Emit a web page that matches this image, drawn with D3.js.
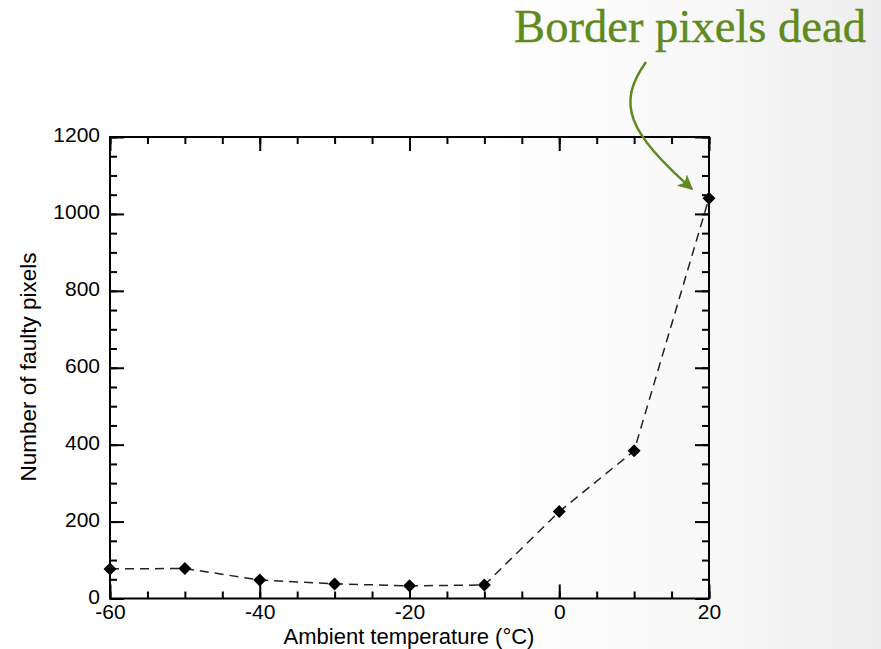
<!DOCTYPE html>
<html>
<head>
<meta charset="utf-8">
<script src="https://cdn.jsdelivr.net/npm/d3@7"></script>
<style>
  html, body { margin: 0; padding: 0; background: #fff; }
  svg { display: block; }
</style>
</head>
<body>
<script>
// Faulty pixel count versus ambient temperature
const temperatures = [-60, -50, -40, -30, -20, -10, 0, 10, 20];
const faultyPixels = [77, 78, 48, 38, 33, 35, 226, 384, 1041];
const xTickValues = [-60, -40, -20, 0, 20];
const yTickValues = [0, 200, 400, 600, 800, 1000, 1200];
const titleText = "Border pixels dead";
const xLabel = "Ambient temperature (°C)";
const yLabel = "Number of faulty pixels";

const W = 881, H = 649;
const plot = { left: 110, right: 709, top: 137, bottom: 598.5 };
const green = "#5f8a1e";

const svg = d3.select("body").append("svg")
  .attr("width", W).attr("height", H);

const defs = svg.append("defs");
const bg = defs.append("linearGradient").attr("id", "bg")
  .attr("x1", 0).attr("y1", 0).attr("x2", 1).attr("y2", 0);
bg.append("stop").attr("offset", "0.55").attr("stop-color", "#ffffff");
bg.append("stop").attr("offset", "0.8").attr("stop-color", "#f8f8f8");
bg.append("stop").attr("offset", "1").attr("stop-color", "#ededed");

const head = defs.append("marker").attr("id", "head")
  .attr("viewBox", "0 0 10 10").attr("refX", 9).attr("refY", 5)
  .attr("markerWidth", 6).attr("markerHeight", 6)
  .attr("markerUnits", "strokeWidth")
  .attr("orient", "auto");
head.append("path").attr("d", "M0,0 L10,5 L0,10 L2.5,5 Z").attr("fill", green);

svg.append("rect").attr("width", W).attr("height", H).attr("fill", "url(#bg)");

const x = d3.scaleLinear().domain([-60, 20]).range([plot.left, plot.right]);
const y = d3.scaleLinear().domain([0, 1200]).range([plot.bottom, plot.top]);

const tickFont = "'Liberation Sans', Arial, sans-serif";
const plain = d => String(d);
const axisStyle = g => {
  g.select(".domain").remove();
  g.selectAll(".tick line").attr("stroke", "#000").attr("stroke-width", 2);
  g.selectAll(".tick text").attr("fill", "#000")
    .style("font-family", tickFont).style("font-size", "21px");
};

const xMinor = d3.range(-60, 21, 5);
const yMinor = d3.range(0, 1201, 50);

// inward minor ticks on all four sides
svg.append("g").attr("transform", `translate(0,${plot.bottom})`)
  .call(d3.axisBottom(x).tickValues(xMinor).tickSize(-7).tickFormat("")).call(axisStyle);
svg.append("g").attr("transform", `translate(0,${plot.top})`)
  .call(d3.axisTop(x).tickValues(xMinor).tickSize(-7).tickFormat("")).call(axisStyle);
svg.append("g").attr("transform", `translate(${plot.left},0)`)
  .call(d3.axisLeft(y).tickValues(yMinor).tickSize(-7).tickFormat("")).call(axisStyle);
svg.append("g").attr("transform", `translate(${plot.right},0)`)
  .call(d3.axisRight(y).tickValues(yMinor).tickSize(-7).tickFormat("")).call(axisStyle);

// inward major ticks, labelled on bottom and left
svg.append("g").attr("transform", `translate(0,${plot.bottom})`)
  .call(d3.axisBottom(x).tickValues(xTickValues).tickSize(-14).tickPadding(6).tickFormat(plain))
  .call(axisStyle);
svg.append("g").attr("transform", `translate(0,${plot.top})`)
  .call(d3.axisTop(x).tickValues(xTickValues).tickSize(-14).tickFormat("")).call(axisStyle);
svg.append("g").attr("transform", `translate(${plot.left},0)`)
  .call(d3.axisLeft(y).tickValues(yTickValues).tickSize(-14).tickPadding(10).tickFormat(plain))
  .call(axisStyle)
  .call(g => g.selectAll(".tick text").attr("dy", "0.22em"));
svg.append("g").attr("transform", `translate(${plot.right},0)`)
  .call(d3.axisRight(y).tickValues(yTickValues).tickSize(-14).tickFormat("")).call(axisStyle);

// frame
svg.append("rect")
  .attr("x", plot.left).attr("y", plot.top)
  .attr("width", plot.right - plot.left).attr("height", plot.bottom - plot.top)
  .attr("fill", "none").attr("stroke", "#000").attr("stroke-width", 2);

// dashed series line
const line = d3.line().x((d, i) => x(temperatures[i])).y(d => y(d));
svg.append("path").datum(faultyPixels)
  .attr("d", line).attr("fill", "none")
  .attr("stroke", "#222").attr("stroke-width", 1.5)
  .attr("stroke-dasharray", "9,6");

// diamond markers
const r = 6.5;
svg.append("g").selectAll("path").data(faultyPixels).join("path")
  .attr("transform", (d, i) => `translate(${x(temperatures[i])},${y(d)})`)
  .attr("d", `M0,${-r} L${r},0 L0,${r} L${-r},0 Z`)
  .attr("fill", "#000");

// axis titles
svg.append("text")
  .attr("x", 409).attr("y", 644)
  .attr("text-anchor", "middle")
  .style("font-family", tickFont).style("font-size", "22px")
  .text(xLabel);
svg.append("text")
  .attr("transform", `translate(36,367) rotate(-90)`)
  .attr("text-anchor", "middle")
  .style("font-family", tickFont).style("font-size", "22.5px")
  .text(yLabel);

// annotation
const title = svg.append("text")
  .attr("x", 866).attr("y", 42)
  .attr("text-anchor", "end")
  .attr("fill", green).attr("stroke", green).attr("stroke-width", 0.35)
  .style("font-family", "'Liberation Serif', 'DejaVu Serif', serif")
  .style("font-size", "44px")
  .text(titleText);
const tw = title.node().getComputedTextLength();
title.style("font-size", (44 * 352 / tw) + "px");

svg.append("path")
  .attr("d", "M646,62 C616,104 628,132 692,189")
  .attr("fill", "none").attr("stroke", green).attr("stroke-width", 2.5)
  .attr("marker-end", "url(#head)");
</script>
</body>
</html>
